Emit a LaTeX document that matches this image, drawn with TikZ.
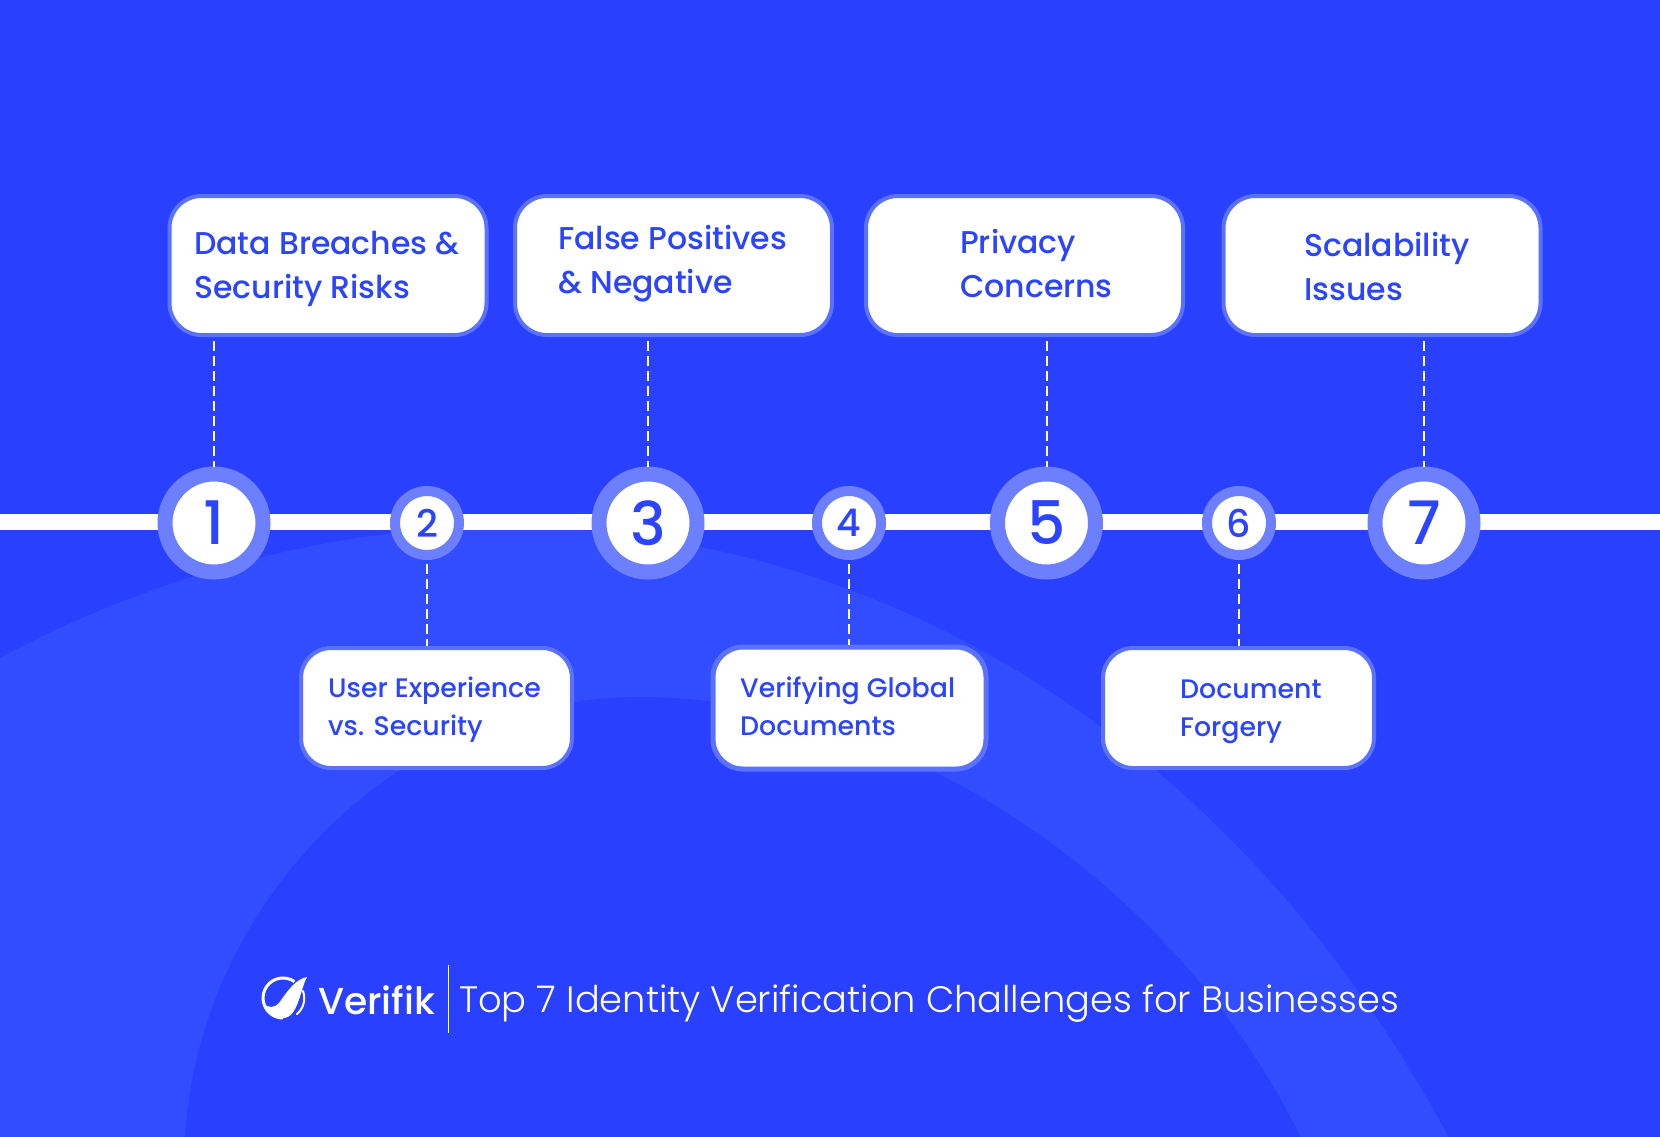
\documentclass[tikz,border=0pt]{standalone}
\usepackage{fontspec}
\setmainfont{Poppins}
\newfontfamily\poppinsmed{Poppins Medium}
\newfontfamily\poppinslight{Poppins Light}
\usetikzlibrary{positioning, calc}
\definecolor{bgblue}{HTML}{2940FF}
\definecolor{bandblue}{HTML}{324CFF}
\definecolor{ringblue}{HTML}{6C80FF}
\definecolor{edgeblue}{HTML}{5A72FF}
\definecolor{inkblue}{HTML}{2B44FF}
\tikzset{
  bigbox/.style = {draw=edgeblue, fill=white, line width=4pt, rounded corners=32pt, minimum width=317pt, minimum height=139pt, inner sep=0pt},
  smallbox/.style = {draw=edgeblue, fill=white, line width=4pt, rounded corners=30pt, minimum width=271pt, minimum height=120pt, inner sep=0pt},
  bigtext/.style = {anchor=base west, align=left, text=inkblue, inner sep=0pt, font=\poppinsmed\fontsize{31.5}{44}\selectfont},
  smalltext/.style = {anchor=base west, align=left, text=inkblue, inner sep=0pt, font=\poppinsmed\fontsize{26.8}{38}\selectfont},
  bignum/.style = {circle, draw=ringblue, fill=white, line width=15pt, minimum size=98pt, inner sep=0pt, text=inkblue, font=\poppinsmed\fontsize{60}{60}\selectfont},
  smallnum/.style = {circle, draw=ringblue, fill=white, line width=10pt, minimum size=64pt, inner sep=0pt, text=inkblue, font=\poppinsmed\fontsize{38}{38}\selectfont},
  dashline/.style = {white, line width=2pt, dash pattern=on 10pt off 5pt}
}
\begin{document}
\begin{tikzpicture}[x=1pt, y=-1pt]
\useasboundingbox (0,0) rectangle (1660,1136);
\fill [bgblue] (-5,-5) rectangle (1665,1141);
\fill [bandblue] (-60,690) -- (0,658) .. controls (150,577) and (330,527) .. (500,527) .. controls (900,527) and (1244,758) .. (1448,1136) -- (1480,1200) -- (-60,1200) -- cycle;
\fill [bgblue] (180,1200) -- (185,1136) .. controls (200,900) and (400,697) .. (640,697) .. controls (890,697) and (1172,875) .. (1300,1136) -- (1330,1200) -- cycle;
\draw [white, line width=16pt] (0,522) -- (1660,522);

\node [bigbox] (box1) at (328,265.5) {};
\node [bigbox] (box3) at (673.5,265.5) {};
\node [bigbox] (box5) at (1024.5,265.5) {};
\node [bigbox] (box7) at (1382,265.5) {};
\node [smallbox] (box2) at (436.5,708) {};
\node [smallbox, line width=5pt, minimum width=273pt, minimum height=122pt] (box4) at (849.5,708) {};
\node [smallbox] (box6) at (1238.5,708) {};

\node [bigtext] (label1) at (194,298) {Data Breaches \&\\Security Risks};
\node [bigtext] (label3) at (558,293) {False Positives\\\& Negative};
\node [bigtext] (label5) at (960,297) {Privacy\\Concerns};
\node [bigtext] (label7) at (1304,300) {Scalability\\Issues};
\node [smalltext] (label2) at (328,735) {User Experience\\vs. Security};
\node [smalltext] (label4) at (740,735) {Verifying Global\\Documents};
\node [smalltext] (label6) at (1180,736) {Document\\Forgery};

\node [bignum] (num1) at (214,523) {1};
\node [smallnum] (num2) at (427,523) {2};
\node [bignum] (num3) at (648,523) {3};
\node [smallnum] (num4) at (849,523) {4};
\node [bignum] (num5) at (1046.5,523) {5};
\node [smallnum] (num6) at (1239,523) {6};
\node [bignum] (num7) at (1424,523) {7};

\foreach \n in {1,3,5,7}
  \draw [dashline, shorten <=4pt] (box\n.south -| num\n.north) -- (num\n.north);
\foreach \n in {2,4,6}
  \draw [dashline, shorten <=4pt] (num\n.south) -- (num\n.south |- box\n.north);

\draw [white, line width=3pt] (294.5,981.6) arc [start angle=55, end angle=270, radius=20pt];
\fill [white] (307,977) .. controls (296,979) and (288,990) .. (279,1003) .. controls (275,1008) and (268,1008) .. (264,1004) .. controls (267,1014) and (275,1018) .. (283,1018) .. controls (298,1018) and (300,990) .. (307,977) -- cycle;
\draw [white, line width=2pt, line cap=round] (303,991) arc [start angle=20, end angle=-50, radius=21pt];

\node [anchor=base west, inner sep=0pt, text=white, font=\poppinsmed\fontsize{37.6}{38}\selectfont] (brand) at (318,1014) {Verifik};
\draw [white, line width=1pt] (448,965) coordinate (ruletop) -- (448,1033) coordinate (rulebottom);
\node [anchor=base west, inner sep=0pt, text=white, font=\poppinslight\fontsize{36.8}{38}\selectfont] (title) at (459,1012) {Top 7 Identity Verification Challenges for Businesses};
\end{tikzpicture}
\end{document}
